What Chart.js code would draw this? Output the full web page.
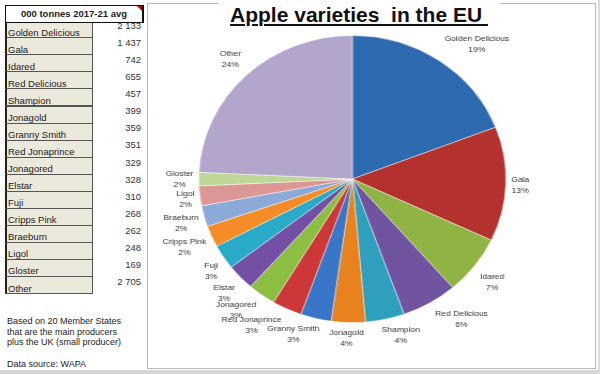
<!DOCTYPE html>
<html>
<head>
<meta charset="utf-8">
<script src="https://cdn.jsdelivr.net/npm/chart.js@4.4.1/dist/chart.umd.min.js"></script>
<style>
  body { margin: 0; width: 600px; height: 374px; background: #fff; position: relative; overflow: hidden;
         font-family: "Liberation Sans", Arial, sans-serif; color: #222; }
  .abs { position: absolute; }
  .head { left: 5px; top: 5px; width: 136px; height: 16px; border: 1px solid #111; border-right-width: 2px;
          background: #fff; font-weight: bold; font-size: 9.5px; line-height: 16px; text-align: center; z-index: 2; }
  .head .flag { position: absolute; right: 0; top: 0; width: 0; height: 0;
                border-top: 5px solid #c00; border-left: 5px solid transparent; }
  .cell { left: 5px; width: 85px; height: 16px; background: #ebe9dc; border: 1px solid #555; border-left: 2px solid #222; }
  .lab { left: 8px; font-size: 9.5px; line-height: 11px; }
  .val { left: 95px; width: 46px; text-align: right; font-size: 9.5px; line-height: 11px; color: #333; }
  .note { left: 7px; font-size: 9px; line-height: 10.7px; color: #222; }
  .panel { left: 147px; top: 3px; width: 447px; height: 364px; border: 1px solid #b8b8b8; }
  .title { left: 218px; top: 0px; width: 282px; height: 27px; background: #fff; text-align: center;
           font-weight: bold; font-size: 21px; line-height: 30px; color: #111; white-space: pre; }
  .title span { text-decoration: underline; text-decoration-thickness: 2px; text-underline-offset: 2px; }
  .chartBox { left: 148px; top: 3px; width: 419px; height: 365px; transform: scaleX(1.07); transform-origin: 0 0; }
  .strip { left: 0; top: 370px; width: 600px; height: 4px; background: #d6d6d6; }
  .edge { left: 598px; top: 0; width: 2px; height: 374px; background: #dcdcdc; }
</style>
</head>
<body>
<div id="table"></div>
<div class="abs panel"></div>
<div class="abs title"><span>Apple varieties  in the EU </span></div>
<div class="abs chartBox"><canvas id="pie"></canvas></div>
<div class="abs strip"></div>
<div class="abs edge"></div>
<script>
// 000 tonnes, 2017-21 average
const varieties = ["Golden Delicious", "Gala", "Idared", "Red Delicious", "Shampion", "Jonagold",
  "Granny Smith", "Red Jonaprince", "Jonagored", "Elstar", "Fuji", "Cripps Pink", "Braeburn",
  "Ligol", "Gloster", "Other"];
const tonnes = [2133, 1437, 742, 655, 457, 399, 359, 351, 329, 328, 310, 268, 262, 248, 169, 2705];
const sliceColors = ["#2e6ab0", "#b4322e", "#8fb444", "#7054a0", "#2ea0be", "#e8821e",
  "#3a76c8", "#cd3737", "#8cbe41", "#7350a5", "#28aac8", "#f58c28", "#8caad7",
  "#dc9696", "#bed796", "#b4a5cd"];
const tableHeader = "000 tonnes 2017-21 avg";
const notes = ["Based on 20 Member States", "that are the main producers", "plus the UK (small producer)"];
const source = "Data source: WAPA";

// left-hand table
const table = document.getElementById("table");
const fmt = (v) => String(v).replace(/\B(?=(\d{3})+(?!\d))/g, " ");
let html = `<div class="abs head">${tableHeader}<div class="flag"></div></div>`;
varieties.forEach((name, i) => {
  const top = 20.2 + 17.07 * i;
  html += `<div class="abs cell" style="top:${top}px"></div>`;
  html += `<div class="abs lab" style="top:${32 + 17.07 * i - 5.5}px">${name}</div>`;
  html += `<div class="abs val" style="top:${25.5 + 17.07 * i - 5.5}px">${fmt(tonnes[i])}</div>`;
});
notes.forEach((line, i) => {
  html += `<div class="abs note" style="top:${316 + 10.7 * i}px">${line}</div>`;
});
html += `<div class="abs note" style="top:358.5px">${source}</div>`;
table.innerHTML = html;

// name + percentage outside each slice, placed off the slice's mid-angle
const outsideLabels = {
  id: "outsideLabels",
  afterDatasetsDraw(chart) {
    const ctx = chart.ctx;
    const meta = chart.getDatasetMeta(0);
    const data = chart.data.datasets[0].data;
    const total = data.reduce((a, b) => a + b, 0);
    const clamp = (v) => Math.max(-1, Math.min(1, v));
    ctx.save();
    ctx.font = "8px 'Liberation Sans', Arial, sans-serif";
    ctx.fillStyle = "#333";
    ctx.textAlign = "center";
    ctx.textBaseline = "middle";
    meta.data.forEach((arc, i) => {
      const p = arc.getProps(["x", "y", "startAngle", "endAngle", "outerRadius"], true);
      const mid = (p.startAngle + p.endAngle) / 2;
      const cos = Math.cos(mid), sin = Math.sin(mid);
      const ex = p.x + cos * p.outerRadius;
      const ey = p.y + sin * p.outerRadius;
      const name = chart.data.labels[i];
      const pct = Math.round((data[i] / total) * 100) + "%";
      const w = Math.max(ctx.measureText(name).width, ctx.measureText(pct).width);
      const cx = ex + clamp(cos * 3) * (w / 2 + 5);
      const cy = ey + clamp(sin * 1.7) * (11 + 5);
      ctx.fillText(name, cx, cy - 5.5);
      ctx.fillText(pct, cx, cy + 5.5);
    });
    ctx.restore();
  }
};

new Chart(document.getElementById("pie"), {
  type: "pie",
  data: {
    labels: varieties,
    datasets: [{
      data: tonnes,
      backgroundColor: sliceColors,
      borderColor: "rgba(255,255,255,0.45)",
      borderWidth: 1
    }]
  },
  options: {
    responsive: true,
    maintainAspectRatio: false,
    animation: false,
    layout: { padding: { left: 47, right: 84, top: 32, bottom: 45 } },
    plugins: {
      legend: { display: false },
      tooltip: { enabled: false },
      title: { display: false }
    }
  },
  plugins: [outsideLabels]
});
</script>
</body>
</html>
